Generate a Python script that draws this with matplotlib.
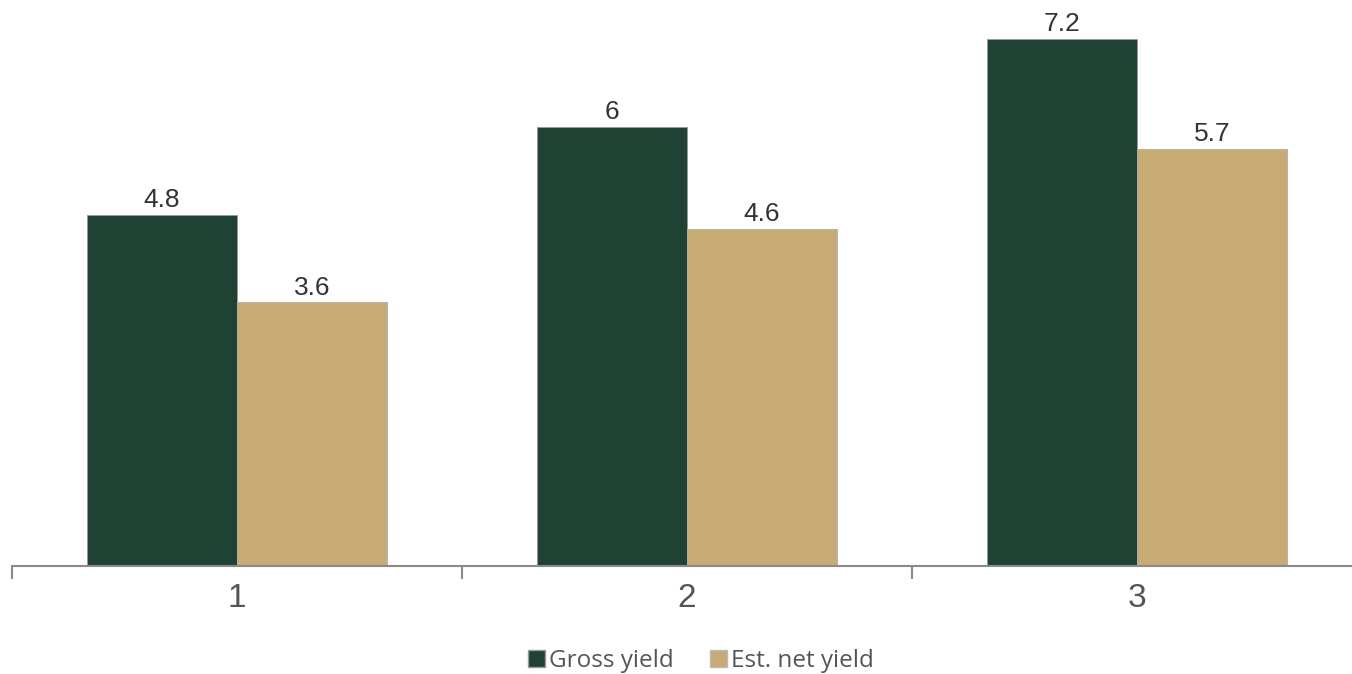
import matplotlib.pyplot as plt
import numpy as np
from matplotlib.patches import Patch

categories = ["1", "2", "3"]
gross_yield = [4.8, 6.0, 7.2]
net_yield = [3.6, 4.6, 5.7]
gross_labels = ["4.8", "6", "7.2"]
net_labels = ["3.6", "4.6", "5.7"]

green = "#1f4235"
tan = "#c8aa75"

fig = plt.figure(figsize=(13.52, 6.74), dpi=100)
ax = fig.add_axes([12 / 1352, 108 / 674, 1340 / 1352, 566 / 674])

x = np.arange(len(categories))
w = 1 / 3
b1 = ax.bar(x - w / 2, gross_yield, w, color=green, edgecolor="#9a9a9a", linewidth=0.6)
b2 = ax.bar(x + w / 2, net_yield, w, color=tan, edgecolor="#b0b0b0", linewidth=0.6)

# value labels over the bars
for bars, labels in ((b1, gross_labels), (b2, net_labels)):
    for bar, lab in zip(bars, labels):
        ax.text(bar.get_x() + bar.get_width() / 2, bar.get_height() + 0.04, lab,
                ha="center", va="bottom", fontsize=19, color="#333333",
                family="Liberation Sans")

ax.set_xlim(-0.5, -0.5 + 1340 / 450)
ax.set_ylim(0, 566 / 73.2)

for s in ("top", "right", "left"):
    ax.spines[s].set_visible(False)
ax.spines["bottom"].set_color("#8a8a8a")
ax.spines["bottom"].set_linewidth(1.5)
ax.set_yticks([])

# ticks between categories, labels in the middle
ax.set_xticks([-0.5, 0.5, 1.5])
ax.set_xticklabels([])
ax.tick_params(axis="x", which="major", length=9, width=1.5, color="#8a8a8a")
ax.set_xticks(x, minor=True)
ax.set_xticklabels(categories, minor=True, fontsize=24, color="#555555",
                   family="Liberation Sans")
ax.tick_params(axis="x", which="minor", length=0, pad=12)

handles = [Patch(facecolor=green, edgecolor="#999999", label="Gross yield"),
           Patch(facecolor=tan, edgecolor="#bbbbbb", label="Est. net yield")]
fig.legend(handles=handles, loc="center", bbox_to_anchor=(701 / 1352, 1 - 661 / 674),
           ncol=2, frameon=False, handlelength=0.7, handleheight=0.7,
           handletextpad=0.15, columnspacing=1.5,
           prop={"family": "Open Sans", "size": 17.5}, labelcolor="#555555")

fig.savefig("out.png", dpi=100)
